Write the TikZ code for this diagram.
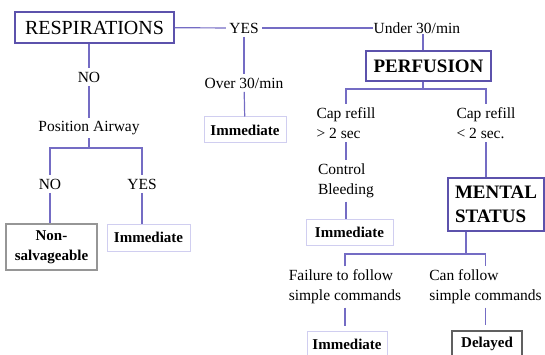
\documentclass[tikz,border=0pt]{standalone}
\usepackage{fontspec}
\setmainfont{Liberation Serif}
\usetikzlibrary{positioning,calc}

\definecolor{linkblue}{RGB}{116,108,196}
\definecolor{boxblue}{RGB}{92,82,172}
\definecolor{paleblue}{RGB}{208,206,240}
\definecolor{boxgray}{RGB}{150,150,150}
\definecolor{delaygray}{RGB}{96,96,96}

\begin{document}
\begin{tikzpicture}[x=1pt, y=-1pt, line width=1.2pt, draw=linkblue,
  lbl/.style={inner sep=3pt, font=\fontsize{15.5}{20}\selectfont},
  mainbox/.style={draw=boxblue, line width=1.3pt, inner sep=0pt, font=\fontsize{20}{22}\selectfont},
  boldbox/.style={mainbox, font=\fontsize{19}{24}\selectfont\bfseries},
  softbox/.style={draw=paleblue, line width=1pt, inner sep=0pt, font=\fontsize{15}{20}\selectfont\bfseries},
  graybox/.style={draw=boxgray, line width=1.3pt, inner sep=0pt, align=center, font=\fontsize{15}{20}\selectfont\bfseries},
  delaybox/.style={draw=delaygray, line width=1.6pt, inner sep=0pt, font=\fontsize{15}{20}\selectfont\bfseries}]

  \useasboundingbox (0,0) rectangle (545,355);
  \clip (0,0) rectangle (545,355);

  \node[mainbox, minimum width=159pt, minimum height=31pt] (resp) at (94.5,27.5) {RESPIRATIONS};
  \node[lbl] (yes1) at (244,28) {YES};
  \node[lbl, anchor=west, inner sep=0pt] (under) at (373,28) {Under 30/min};
  \node[lbl] (over) at (244,83) {Over 30/min};
  \node[softbox, minimum width=82pt, minimum height=26pt] (immA) at (245,130) {Immediate};

  \node[lbl] (no1) at (89,77) {NO};
  \node[lbl] (airway) at (89,128) {Position Airway};
  \coordinate (split1) at (89,148);
  \node[lbl] (no2) at (50,184) {NO};
  \node[lbl] (yes2) at (142,184) {YES};
  \node[graybox, minimum width=91pt, minimum height=46pt] (nonsal) at (51.5,247) {Non-\\salvageable};
  \node[softbox, minimum width=83pt, minimum height=27pt] (immB) at (148.5,237.5) {Immediate};

  \node[boldbox, minimum width=125pt, minimum height=30pt] (perf) at (428.5,66) {PERFUSION};
  \coordinate (split2) at (423,89);
  \node[lbl, align=left] (capgt) at (346,123) {Cap refill\\> 2 sec};
  \node[lbl, align=left] (caplt) at (486,123) {Cap refill\\< 2 sec.};
  \node[lbl, align=left] (bleed) at (346,181) {Control\\Bleeding};
  \node[softbox, minimum width=87pt, minimum height=26pt] (immC) at (349.5,232) {Immediate};

  \node[boldbox, align=left, minimum width=96pt, minimum height=53pt] (mental) at (496,204.5) {MENTAL\\STATUS};
  \coordinate (split3) at (466,254);
  \node[lbl, align=left] (fail) at (345,287) {Failure to follow\\simple commands};
  \node[lbl, align=left] (canf) at (485.5,287) {Can follow\\simple commands};
  \node[softbox, minimum width=80pt, minimum height=26pt] (immD) at (347,344) {Immediate};
  \node[delaybox, minimum width=70pt, minimum height=26pt] (delay) at (487,344) {Delayed};

  \draw (resp) -- (yes1);
  \draw (yes1) -- (under);
  \draw (yes1) -- (over);
  \draw (over) -- (immA);

  \draw (resp.south -| no1) -- (no1);
  \draw (no1) -- (airway);
  \draw (airway) -- (split1);
  \draw (no2) |- (split1) -| (yes2);
  \draw (no2) -- (no2 |- nonsal.north);
  \draw (yes2) -- (yes2 |- immB.north);

  \draw (under.south -| split2) -- (perf.north -| split2);
  \draw (perf.south -| split2) -- (split2);
  \draw (capgt) |- (split2) -| (caplt);
  \draw (capgt) -- (bleed);
  \draw (bleed) -- (bleed |- immC.north);
  \draw (caplt) -- (caplt |- mental.north);

  \draw (mental.south -| split3) -- (split3);
  \draw (fail) |- (split3) -| (canf);
  \draw[shorten >=5pt] (fail) -- (fail |- immD.north);
  \draw[shorten >=5pt] (canf) -- (canf |- delay.north);

\end{tikzpicture}
\end{document}
